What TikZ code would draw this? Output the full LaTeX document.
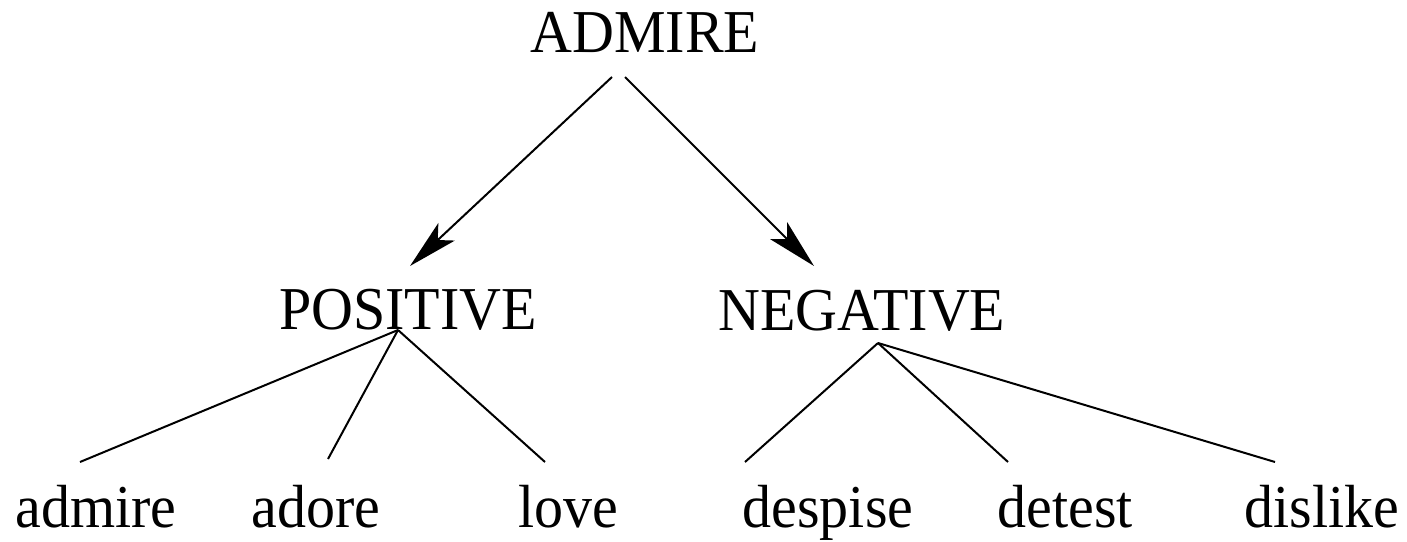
\documentclass[tikz,border=0pt]{standalone}
\usepackage{fontspec}
\setmainfont{Liberation Serif}
\usetikzlibrary{positioning}
\usetikzlibrary{arrows.meta}

\begin{document}
\begin{tikzpicture}[x=0.5pt,y=-0.5pt,
  word/.style={anchor=base,inner sep=0pt,yscale=1.05,font=\fontsize{29}{35}\selectfont},
  branch/.style={line width=1pt},
  pointer/.style={line width=1pt,-{Stealth[length=25pt,width=12pt,inset=6pt]}}]
 \useasboundingbox (0,0) rectangle (1407,541);
 \node[word] (top) at (645,52) {ADMIRE};
 \node[word] (pos) at (408,329) {POSITIVE};
 \node[word] (neg) at (862,330) {NEGATIVE};
 \node[word] (admire) at (96,527) {admire};
 \node[word] (adore) at (316,527) {adore};
 \node[word] (love) at (568,527) {love};
 \node[word] (despise) at (828,527) {despise};
 \node[word] (detest) at (1065,527) {detest};
 \node[word] (dislike) at (1322,527) {dislike};
 \coordinate (top-l) at (612,77);
 \coordinate (top-r) at (625,77);
 \coordinate (pos-in) at (410,266);
 \coordinate (neg-in) at (814,266);
 \coordinate (pos-root) at (398,330);
 \coordinate (neg-root) at (878,343);
 \coordinate (admire-in) at (80,462);
 \coordinate (adore-in) at (328,459);
 \coordinate (love-in) at (545,462);
 \coordinate (despise-in) at (745,462);
 \coordinate (detest-in) at (1008,462);
 \coordinate (dislike-in) at (1275,462);
 \draw[pointer] (top-l) -- (pos-in);
 \draw[pointer] (top-r) -- (neg-in);
 \draw[branch] (pos-root) -- (admire-in);
 \draw[branch] (pos-root) -- (adore-in);
 \draw[branch] (pos-root) -- (love-in);
 \draw[branch] (neg-root) -- (despise-in);
 \draw[branch] (neg-root) -- (detest-in);
 \draw[branch] (neg-root) -- (dislike-in);
\end{tikzpicture}
\end{document}
